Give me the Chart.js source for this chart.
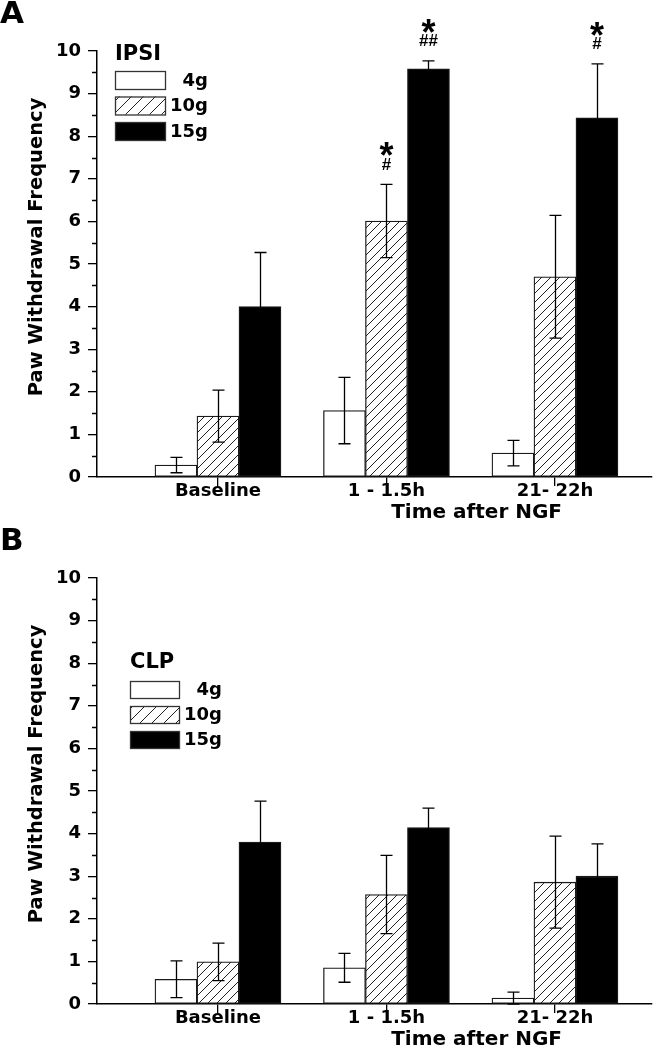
<!DOCTYPE html>
<html>
<head>
<meta charset="utf-8">
<script src="https://cdn.jsdelivr.net/npm/chart.js@4.4.1/dist/chart.umd.min.js"></script>
<style>
  body { margin: 0; background: #fff; width: 653px; height: 1050px; overflow: hidden; position: relative; }
  .panel { position: absolute; left: 0; width: 653px; height: 527px; }
  #panelA { top: 0; }
  #panelB { top: 527px; }
</style>
</head>
<body>
<div class="panel" id="panelA"><canvas id="chartA"></canvas></div>
<div class="panel" id="panelB"><canvas id="chartB"></canvas></div>
<script>
// categories and series
const groups = ['Baseline', '1 - 1.5h', '21- 22h'];
const groupPos = [1, 2, 3];
const forces = ['4g', '10g', '15g'];
const yTicks = [0, 1, 2, 3, 4, 5, 6, 7, 8, 9, 10];

// A: IPSI
const ipsi4g = [0.28, 1.56, 0.56];
const ipsi10g = [1.43, 6.01, 4.70];
const ipsi15g = [4.00, 9.58, 8.43];
const ipsi4gErr = [0.18, 0.78, 0.30];
const ipsi10gErr = [0.61, 0.86, 1.44];
const ipsi15gErr = [1.27, 0.19, 1.27];
const ipsiStar = [['', '', ''], ['', '*', ''], ['', '*', '*']];
const ipsiHash = [['', '', ''], ['', '#', ''], ['', '##', '#']];

// B: CLP
const clp4g = [0.58, 0.85, 0.14];
const clp10g = [0.99, 2.57, 2.86];
const clp15g = [3.80, 4.14, 3.00];
const clp4gErr = [0.43, 0.34, 0.14];
const clp10gErr = [0.44, 0.92, 1.08];
const clp15gErr = [0.96, 0.46, 0.76];

const FONT = 'DejaVu Sans';

const hatch = (gap) => {
  const c = document.createElement('canvas');
  c.width = gap; c.height = gap;
  const g = c.getContext('2d');
  g.fillStyle = '#fff';
  g.fillRect(0, 0, gap, gap);
  g.strokeStyle = '#222';
  g.lineWidth = 1;
  g.beginPath();
  g.moveTo(0, gap); g.lineTo(gap, 0);
  g.moveTo(-1, 1); g.lineTo(1, -1);
  g.moveTo(gap - 1, gap + 1); g.lineTo(gap + 1, gap - 1);
  g.stroke();
  return g.createPattern(c, 'repeat');
};

const errorBars = {
  id: 'errorBars',
  afterDatasetsDraw(chart) {
    const {ctx} = chart;
    const y = chart.scales.y;
    ctx.save();
    ctx.strokeStyle = '#000';
    ctx.lineWidth = 1.3;
    chart.data.datasets.forEach((ds, di) => {
      chart.getDatasetMeta(di).data.forEach((bar, i) => {
        const v = ds.data[i].y, e = ds.errors[i];
        const top = y.getPixelForValue(v + e);
        const bot = y.getPixelForValue(Math.max(v - e, 0));
        const x = Math.round(bar.x) + 0.5;
        ctx.beginPath();
        ctx.moveTo(x, top); ctx.lineTo(x, bot);
        ctx.moveTo(x - 6, top); ctx.lineTo(x + 6, top);
        ctx.moveTo(x - 6, bot); ctx.lineTo(x + 6, bot);
        ctx.stroke();
      });
    });
    ctx.restore();
  }
};

const sigMarks = {
  id: 'sigMarks',
  afterDatasetsDraw(chart, args, opts) {
    if (!opts.stars) return;
    const {ctx} = chart;
    const y = chart.scales.y;
    ctx.save();
    ctx.fillStyle = '#000';
    ctx.textAlign = 'center';
    chart.data.datasets.forEach((ds, di) => {
      chart.getDatasetMeta(di).data.forEach((bar, i) => {
        const star = opts.stars[di][i], hash = opts.hashes[di][i];
        if (!star && !hash) return;
        const top = y.getPixelForValue(ds.data[i].y + ds.errors[i]);
        ctx.textBaseline = 'alphabetic';
        ctx.font = 'bold 36px "Liberation Sans"';
        ctx.fillText(star, bar.x, top - 36 + 20);
        ctx.textBaseline = 'middle';
        ctx.font = 'bold 17px "Liberation Sans"';
        ctx.fillText(hash, bar.x, top - 19);
      });
    });
    ctx.restore();
  }
};

const boxLegend = {
  id: 'boxLegend',
  afterDraw(chart, args, opts) {
    const {ctx} = chart;
    ctx.save();
    ctx.fillStyle = '#000';
    ctx.font = `bold 21px "${FONT}"`;
    ctx.textAlign = 'left';
    ctx.textBaseline = 'middle';
    ctx.fillText(opts.title, opts.x, opts.titleY);
    chart.data.datasets.forEach((ds, i) => {
      const top = opts.y + i * opts.gap;
      ctx.fillStyle = ds.legendFill || ds.backgroundColor;
      ctx.fillRect(opts.x, top, opts.boxW, opts.boxH);
      ctx.strokeStyle = '#333';
      ctx.lineWidth = 1.3;
      ctx.strokeRect(opts.x + 0.5, top + 0.5, opts.boxW, opts.boxH);
      ctx.fillStyle = '#000';
      ctx.font = `bold 18px "${FONT}"`;
      ctx.textAlign = 'right';
      ctx.fillText(ds.label, opts.labelRight, top + opts.boxH / 2 + 1);
      ctx.textAlign = 'left';
    });
    ctx.restore();
  }
};

const axisText = {
  id: 'axisText',
  afterDraw(chart, args, opts) {
    const {ctx} = chart;
    const {x, y} = chart.scales;
    ctx.save();
    ctx.fillStyle = '#000';
    ctx.font = `bold 31px "${FONT}"`;
    ctx.textAlign = 'left';
    ctx.textBaseline = 'alphabetic';
    ctx.fillText(opts.letter, 0, 23);
    ctx.font = `bold 20px "${FONT}"`;
    ctx.textAlign = 'center';
    ctx.textBaseline = 'middle';
    ctx.fillText('Time after NGF', x.getPixelForValue(2.535), 513);
    ctx.translate(37, y.getPixelForValue(5.4));
    ctx.rotate(-Math.PI / 2);
    ctx.font = `bold 19.5px "${FONT}"`;
    ctx.fillText('Paw Withdrawal Frequency', 0, 0);
    ctx.restore();
  }
};

const minorTicks = {
  id: 'minorTicks',
  afterDraw(chart) {
    const {ctx} = chart;
    const y = chart.scales.y;
    ctx.save();
    ctx.strokeStyle = '#000';
    ctx.lineWidth = 1.3;
    ctx.beginPath();
    yTicks.slice(1).forEach(t => {
      const py = Math.round(y.getPixelForValue(t - 0.5)) + 0.5;
      ctx.moveTo(y.right - 5, py);
      ctx.lineTo(y.right, py);
    });
    ctx.stroke();
    ctx.restore();
  }
};

function makeChart(id, letter, title, legendPos, means, errs, stars, hashes) {
  const fills = ['#ffffff', hatch(9), '#000000'];
  const datasets = forces.map((f, k) => ({
    label: k === 0 ? '\u2007' + f : f,
    data: groupPos.map((p, i) => ({x: p, y: means[k][i]})),
    errors: errs[k],
    backgroundColor: fills[k],
    legendFill: k === 1 ? hatch(12) : null,
    borderColor: '#1a1a1a',
    borderWidth: 1.3,
    borderSkipped: false,
    barThickness: 42
  }));
  const tickFont = {family: FONT, size: 18, weight: 'bold'};
  return new Chart(document.getElementById(id), {
    type: 'bar',
    data: {datasets},
    options: {
      responsive: true,
      maintainAspectRatio: false,
      animation: false,
      layout: {padding: {top: 51, right: 1, left: 0, bottom: 0}},
      plugins: {
        legend: {display: false},
        tooltip: {enabled: false},
        boxLegend: Object.assign({title}, legendPos),
        axisText: {letter},
        sigMarks: {stars, hashes}
      },
      scales: {
        x: {
          type: 'linear',
          offset: false,
          min: 0.282,
          max: 3.576,
          afterBuildTicks: s => { s.ticks = groupPos.map(v => ({value: v})); },
          afterFit: s => { s.height = 50; },
          ticks: {
            callback: v => groups[groupPos.indexOf(v)] || '',
            autoSkip: false,
            maxRotation: 0,
            padding: -5,
            color: '#000',
            font: tickFont
          },
          grid: {offset: false, drawOnChartArea: false, drawTicks: true, tickLength: 9, color: '#000', lineWidth: 1.3},
          border: {color: '#000', width: 1.5}
        },
        y: {
          min: 0,
          max: 10,
          afterBuildTicks: s => { s.ticks = yTicks.map(v => ({value: v})); },
          afterFit: s => { s.width = 97; },
          ticks: {padding: 7, color: '#000', font: tickFont},
          grid: {drawOnChartArea: false, drawTicks: true, tickLength: 9, color: '#000', lineWidth: 1.3},
          border: {color: '#000', width: 1.5}
        }
      }
    },
    plugins: [errorBars, sigMarks, boxLegend, axisText, minorTicks]
  });
}

makeChart('chartA', 'A', 'IPSI',
  {x: 115, y: 71, gap: 25.5, boxW: 50, boxH: 18, labelRight: 208, titleY: 55},
  [ipsi4g, ipsi10g, ipsi15g], [ipsi4gErr, ipsi10gErr, ipsi15gErr], ipsiStar, ipsiHash);

makeChart('chartB', 'B', 'CLP',
  {x: 130, y: 154, gap: 25, boxW: 49, boxH: 17, labelRight: 222, titleY: 136},
  [clp4g, clp10g, clp15g], [clp4gErr, clp10gErr, clp15gErr], null, null);
</script>
</body>
</html>
